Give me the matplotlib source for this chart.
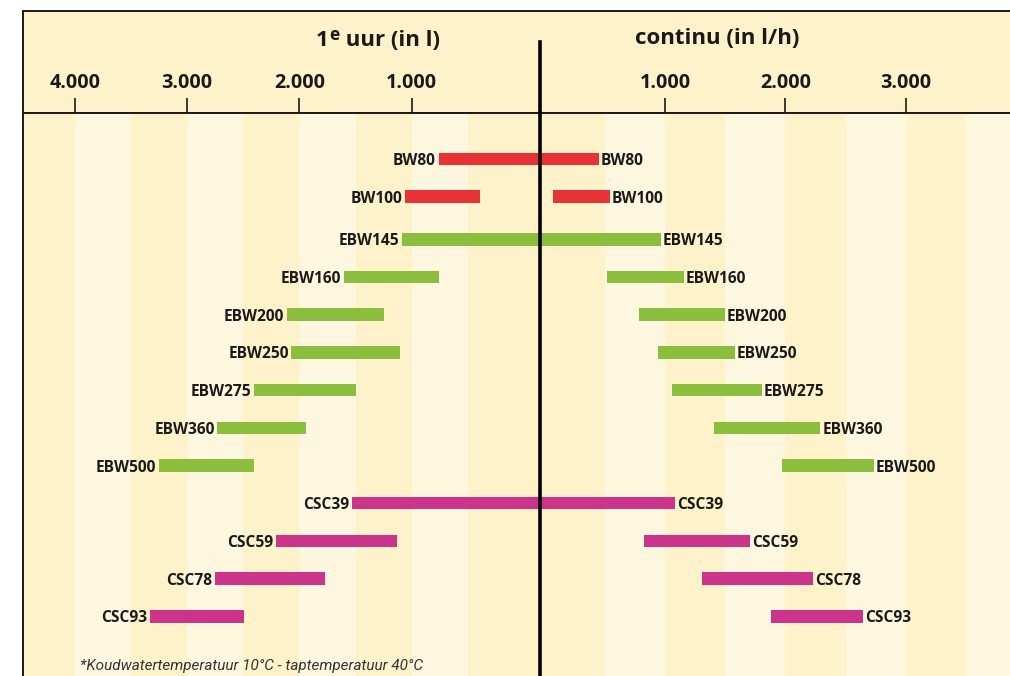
import numpy as np
import matplotlib
matplotlib.use("Agg")
import matplotlib.pyplot as plt
from matplotlib.patches import Rectangle
from matplotlib.lines import Line2D
from matplotlib import font_manager

# ---------------- data ----------------
models = ["BW80", "BW100", "EBW145", "EBW160", "EBW200", "EBW250", "EBW275",
          "EBW360", "EBW500", "CSC39", "CSC59", "CSC78", "CSC93"]
families = ["BW", "BW", "EBW", "EBW", "EBW", "EBW", "EBW",
            "EBW", "EBW", "CSC", "CSC", "CSC", "CSC"]
# 1e uur (litres) : range low -> high (values below 0 reach the centre line)
first_hour_low = [-140, 390, -140, 760, 1250, 1100, 1500, 1940, 2400, -140, 1130, 1770, 2490]
first_hour_high = [760, 1060, 1090, 1600, 2110, 2070, 2400, 2730, 3250, 1530, 2210, 2750, 3330]
# continu (l/h) : range low -> high
continuous_low = [-45, 70, -45, 520, 780, 945, 1060, 1410, 1970, -45, 825, 1305, 1880]
continuous_high = [450, 545, 965, 1155, 1500, 1580, 1805, 2290, 2735, 1085, 1705, 2230, 2645]

left_ticks = [1000, 2000, 3000, 4000]
left_tick_labels = ["1.000", "2.000", "3.000", "4.000"]
right_ticks = [1000, 2000, 3000]
right_tick_labels = ["1.000", "2.000", "3.000"]
left_title_main = "1"
left_title_sup = "e"
left_title_rest = " uur (in l)"
right_title = "continu (in l/h)"
footnote = "*Koudwatertemperatuur 10°C - taptemperatuur 40°C"

family_colors = {"BW": "#E83235", "EBW": "#8BBE3D", "CSC": "#CC338B"}
stripe_dark = "#FDF2C9"
stripe_light = "#FEF7E0"

plt.rcParams['font.family'] = ['Open Sans', 'DejaVu Sans']
available = {f.name for f in font_manager.fontManager.ttflist}
foot_family = ['Liberation Sans Narrow'] if 'Liberation Sans Narrow' in available else ['Roboto', 'DejaVu Sans']

# ---------------- layout ----------------
W, H = 1010, 676
fig = plt.figure(figsize=(W / 100, H / 100), dpi=100)
fig.patch.set_facecolor("white")

def fx(px):
    return px / W

def fy(py):
    return 1 - py / H

x_border, x_center, y_top, y_head = 23, 539.5, 11, 113
body_h = (H - y_head) / H
axL = fig.add_axes([fx(x_border), 0, fx(x_center - x_border), body_h])
axR = fig.add_axes([fx(x_center), 0, fx(W - x_center) + 0.01, body_h])

# header background + frame
fig.add_artist(Rectangle((fx(x_border), fy(y_head)), 1.2, fy(y_top) - fy(y_head),
                         transform=fig.transFigure, facecolor=stripe_dark,
                         edgecolor="#1a1a1a", linewidth=1.4, zorder=-1))

n = len(models)
idx = np.arange(n)
ypos = idx + np.where(idx >= 2, 0.13, 0.0)
row_px = 37.7
ytop = -(159 - y_head) / row_px
ybot = ytop + (H - y_head) / row_px
colors = [family_colors[f] for f in families]

for ax, lo, hi in [(axL, first_hour_low, first_hour_high),
                   (axR, continuous_low, continuous_high)]:
    ax.set_ylim(ybot, ytop)
    for k in range(10):
        a = k * 500 if k > 0 else -1000
        b = (k + 1) * 500
        ax.axvspan(a, b, color=stripe_dark if k % 2 == 0 else stripe_light, lw=0, zorder=0)
    lo = np.array(lo, float)
    hi = np.array(hi, float)
    ax.barh(ypos, hi - lo, left=lo, height=0.33, color=colors, zorder=2)
    for s in ["right", "bottom"]:
        ax.spines[s].set_visible(False)
    ax.spines["top"].set_linewidth(1.4)
    ax.spines["top"].set_color("#1a1a1a")
    ax.set_yticks([])
    ax.xaxis.tick_top()
    ax.tick_params(axis="x", direction="out", length=10.8, width=1.2, pad=3.5,
                   labelsize=14.2, colors="#1a1a1a")

axL.set_xlim(4460, -138)
axR.set_xlim(-43, (W + 10 - 544.7) / 120.35 * 1000)

axL.spines["left"].set_linewidth(1.4)
axL.spines["left"].set_color("#1a1a1a")
axR.spines["left"].set_linewidth(2.6)
axR.spines["left"].set_color("black")
axR.spines["left"].set_zorder(5)

axL.set_xticks(left_ticks)
axL.set_xticklabels(left_tick_labels, fontweight="bold")
axR.set_xticks(right_ticks)
axR.set_xticklabels(right_tick_labels, fontweight="bold")

# bar labels
for i in range(n):
    axL.annotate(models[i], xy=(first_hour_high[i], ypos[i]), xytext=(-2, 0),
                 textcoords="offset points", ha="right", va="center_baseline",
                 fontsize=11.2, fontweight="bold", color="#1a1a1a", zorder=4)
    axR.annotate(models[i], xy=(continuous_high[i], ypos[i]), xytext=(1.3, 0),
                 textcoords="offset points", ha="left", va="center_baseline",
                 fontsize=11.2, fontweight="bold", color="#1a1a1a", zorder=4)

# centre line in header
fig.add_artist(Line2D([fx(x_center), fx(x_center)], [fy(42), fy(y_head)],
                      transform=fig.transFigure, color="black", lw=2.6, zorder=5))

# titles
fig.text(fx(717), fy(44), right_title, ha="center", va="baseline",
         fontsize=16, fontweight="bold", color="#1a1a1a")

t1 = fig.text(0, fy(45.5), left_title_main, ha="left", va="baseline",
              fontsize=16, fontweight="bold", color="#1a1a1a")
t2 = fig.text(0, fy(39.5), left_title_sup, ha="left", va="baseline",
              fontsize=12.5, fontweight="bold", color="#1a1a1a")
t3 = fig.text(0, fy(45.5), left_title_rest, ha="left", va="baseline",
              fontsize=16, fontweight="bold", color="#1a1a1a")
fig.canvas.draw()
r = fig.canvas.get_renderer()
w1 = t1.get_window_extent(r).width
w2 = t2.get_window_extent(r).width
w3 = t3.get_window_extent(r).width
total = w1 + w2 + 1 + w3
start = 378 - total / 2
t1.set_x(fx(start))
t2.set_x(fx(start + w1 + 1))
t3.set_x(fx(start + w1 + 1 + w2))

ft = fig.text(fx(80), fy(670), footnote, ha="left", va="baseline", fontsize=12.5,
              style="italic", color="#333333", family=foot_family)
fig.canvas.draw()
fw = ft.get_window_extent(fig.canvas.get_renderer()).width
ft.set_fontsize(12.5 * 343 / fw)

fig.savefig("out.png", dpi=100)
